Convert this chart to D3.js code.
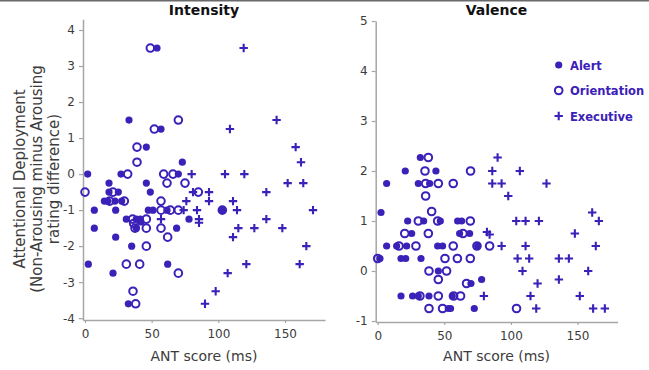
<!DOCTYPE html>
<html>
<head>
<meta charset="utf-8">
<script src="https://cdn.jsdelivr.net/npm/d3@7/dist/d3.min.js"></script>
<style>
  html, body { margin: 0; padding: 0; background: #fff; }
  svg { display: block; font-family: "DejaVu Sans", Verdana, sans-serif; }
</style>
</head>
<body>
<div id="chart"></div>
<script>
// ANT score vs attentional deployment, two panels (Intensity, Valence).
// Values: [ANT score ms, rating difference].

const intensityAlert = [
  [54, 3.5], [33, 1.5], [57, 1.25], [46, 0.75], [73, 0.33], [2, 0], [27, 0], [70, 0],
  [18, -0.25], [46, -0.25], [18, -0.5], [25, -0.5], [49, -0.5],
  [14.5, -0.75], [17, -0.75], [22.5, -0.75], [27.5, -0.75],
  [7, -1], [23, -1], [47.5, -1], [51, -1], [61.5, -1], [103, -1],
  [31, -1.25], [38.5, -1.25], [41.5, -1.25], [78, -1.25], [42, -1.33],
  [7, -1.5], [38.5, -1.5], [68.7, -1.5], [23, -1.75], [35, -2],
  [2.5, -2.5], [62, -2.5], [21, -2.75], [32.5, -3.6]
];
const intensityOrient = [
  [49, 3.5], [70, 1.5], [52, 1.25], [39, 0.75], [39, 0.33], [32, 0], [59, 0], [66, 0],
  [61.5, -0.25], [75, -0.25], [0, -0.5], [21, -0.5], [85, -0.5],
  [18.5, -0.75], [29.5, -0.75], [57, -0.75],
  [57, -1], [64, -1], [70, -1], [103, -1],
  [35.7, -1.25], [46, -1.25], [36.5, -1.37], [37.5, -1.5], [46, -1.5], [57, -1.5],
  [62, -1.75], [46, -2], [31, -2.5], [41, -2.5], [70, -2.75], [36, -3.25], [38, -3.6]
];
const intensityExec = [
  [119, 3.5], [143.7, 1.5], [108.7, 1.25], [158, 0.75], [162, 0.33], [80, 0], [105, 0], [119.5, 0],
  [152, -0.25], [163.7, -0.25], [81, -0.5], [93, -0.5], [136, -0.5],
  [76, -0.75], [93, -0.75], [111, -0.75],
  [74, -1], [84, -1], [114, -1], [171, -1],
  [57, -1.25], [85.5, -1.25], [85.5, -1.35], [136, -1.25],
  [115, -1.5], [127, -1.5], [148, -1.5], [111, -1.75], [166, -2],
  [121, -2.5], [161, -2.5], [107, -2.75], [98, -3.25], [90, -3.6]
];

const valenceAlert = [
  [32, 2.27], [20.7, 2], [43.7, 2], [6.7, 1.75], [30.5, 1.75], [39, 1.75], [2.5, 1.17],
  [22.5, 1], [34.5, 1], [47, 1], [60, 1], [63, 1],
  [25.5, 0.75], [61.5, 0.75], [69, 0.75],
  [6.7, 0.5], [14.2, 0.5], [21.7, 0.5], [45, 0.5], [48.7, 0.5], [75, 0.5],
  [1.7, 0.25], [17.5, 0.25], [21, 0.25], [32.5, 0.25],
  [45.5, 0], [78, -0.17], [70, -0.25],
  [17.5, -0.5], [26.2, -0.5], [30.5, -0.5], [38.5, -0.5], [56, -0.5],
  [53, -0.75], [54.7, -0.75], [72.5, -0.75]
];
const valenceOrient = [
  [38, 2.27], [35.5, 2], [69.7, 2], [36, 1.75], [45.5, 1.75], [56.7, 1.75], [36, 1.5],
  [40.5, 1.19], [30.5, 1], [45, 1], [69.5, 1],
  [20.3, 0.75], [38, 0.75], [64, 0.75],
  [16, 0.5], [28.7, 0.5], [56.7, 0.5], [74.5, 0.5], [84, 0.5],
  [0, 0.25], [50.5, 0.25], [59.8, 0.25], [69.5, 0.25],
  [38.5, 0], [51.7, 0], [45.5, -0.17], [66.7, -0.25],
  [31.7, -0.5], [45.5, -0.5], [57, -0.5], [62.2, -0.5],
  [38.5, -0.75], [48.7, -0.75], [104.2, -0.75]
];
const valenceExec = [
  [90, 2.27], [86, 2], [106.7, 2], [86, 1.75], [93, 1.75], [126.7, 1.75], [98, 1.5],
  [161, 1.17], [104, 1], [111, 1], [121, 1], [166, 1],
  [82, 0.78], [84, 0.73], [148, 0.75],
  [93, 0.5], [111, 0.5], [163.7, 0.5],
  [105, 0.25], [113.7, 0.25], [136, 0.25], [143.5, 0.25],
  [108.7, 0], [158, 0], [136, -0.17], [120, -0.25],
  [79.7, -0.5], [114.7, -0.5], [151.7, -0.5],
  [119, -0.75], [161.7, -0.75], [170.5, -0.75]
];

const xTicks = [0, 50, 100, 150];
const intensityTicks = [-4, -3, -2, -1, 0, 1, 2, 3, 4];
const valenceTicks = [-1, 0, 1, 2, 3, 4, 5];
const legendLabels = ['Alert', 'Orientation', 'Executive'];

const W = 649, H = 370;
const INK = '#3b21b8';
const AXIS = '#a6a6a6';
const TEXT = '#3c3c3c';

const svg = d3.select('#chart').append('svg')
  .attr('width', W).attr('height', H)
  .attr('viewBox', `0 0 ${W} ${H}`);

// thin frame edge at the very top of the original picture
svg.append('rect').attr('x', 0).attr('y', 0).attr('width', W).attr('height', 1.5).attr('fill', '#6a6a6a');

const panels = [
  { title: 'Intensity', x0: 83, x1: 325, yDomain: [-4.05, 4.3], yRange: [320, 19.2], ticks: intensityTicks,
    series: [intensityAlert, intensityOrient, intensityExec] },
  { title: 'Valence', x0: 375.7, x1: 617.5, yDomain: [-1.02, 5], yRange: [322, 21], ticks: valenceTicks,
    series: [valenceAlert, valenceOrient, valenceExec] },
];

const plusPath = (s) => `M${-s},0H${s}M0,${-s}V${s}`;
const plain = (d) => String(d);   // hyphen minus, no decimals

function drawMarker(g, kind, cx, cy) {
  if (kind === 0) {
    g.append('circle').attr('cx', cx).attr('cy', cy).attr('r', 3.6).attr('fill', INK);
  } else if (kind === 1) {
    g.append('circle').attr('cx', cx).attr('cy', cy).attr('r', 3.8)
      .attr('fill', 'none').attr('stroke', INK).attr('stroke-width', 2);
  } else {
    g.append('path').attr('d', plusPath(4.2)).attr('transform', `translate(${cx},${cy})`)
      .attr('fill', 'none').attr('stroke', INK).attr('stroke-width', 2.1);
  }
}

panels.forEach((p) => {
  const x = d3.scaleLinear().domain([-1.5, 180]).range([p.x0, p.x1]);
  const y = d3.scaleLinear().domain(p.yDomain).range(p.yRange);
  const bottom = p.yRange[0];

  const gx = svg.append('g').attr('transform', `translate(0,${bottom})`)
    .call(d3.axisBottom(x).tickValues(xTicks).tickFormat(plain).tickSize(3).tickSizeOuter(0).tickPadding(6));
  const gy = svg.append('g').attr('transform', `translate(${p.x0},0)`)
    .call(d3.axisLeft(y).tickValues(p.ticks).tickFormat(plain).tickSize(4).tickSizeOuter(0).tickPadding(4));

  [gx, gy].forEach((g) => {
    g.select('.domain').attr('stroke', AXIS).attr('stroke-width', 1.5);
    g.selectAll('.tick line').attr('stroke', AXIS).attr('stroke-width', 1.2);
    g.selectAll('.tick text').attr('fill', TEXT).attr('font-size', 12)
      .attr('font-family', '"DejaVu Sans", Verdana, sans-serif');
  });

  svg.append('text')
    .attr('x', (p.x0 + p.x1) / 2).attr('y', 15)
    .attr('text-anchor', 'middle').attr('font-size', 14).attr('font-weight', 'bold')
    .attr('fill', '#111').text(p.title);

  svg.append('text')
    .attr('x', (p.x0 + p.x1) / 2).attr('y', 361)
    .attr('text-anchor', 'middle').attr('font-size', 14).attr('fill', TEXT)
    .text('ANT score (ms)');

  const marks = svg.append('g');
  p.series.forEach((pts, kind) => {
    pts.forEach(([vx, vy]) => drawMarker(marks, kind, x(vx), y(vy)));
  });
});

// y axis title, three rotated lines
const yTitle = ['Attentional Deployment', '(Non-Arousing minus Arousing', 'rating difference)'];
yTitle.forEach((line, i) => {
  svg.append('text')
    .attr('transform', `translate(${25 + i * 17},179) rotate(-90)`)
    .attr('text-anchor', 'middle').attr('font-size', 15).attr('fill', TEXT)
    .text(line);
});

// legend in the Valence panel
const legend = svg.append('g');
legendLabels.forEach((label, i) => {
  const ly = 65 + i * 25.5;
  drawMarker(legend, i, 558.7, ly);
  legend.append('text')
    .attr('x', 570).attr('y', ly + 4.5)
    .attr('font-size', 11.5).attr('font-weight', 'bold').attr('fill', INK)
    .text(label);
});
</script>
</body>
</html>
